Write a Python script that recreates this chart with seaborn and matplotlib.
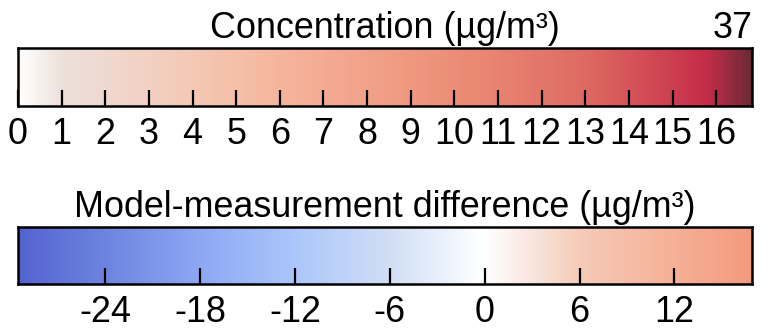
import numpy as np
import pandas as pd
import matplotlib
matplotlib.use("Agg")
import matplotlib.pyplot as plt
from matplotlib.colors import LinearSegmentedColormap
import seaborn as sns

# ---- data ----
conc_title = "Concentration (µg/m³)"
conc_ticks = list(range(0, 17))
conc_min, conc_max = 0.0, 16.82
conc_end_label = "37"
conc_stop_values = [0, 1, 3, 5, 7, 9, 11, 13, 15, 15.8, 16.82]
conc_stop_colors = ["#ffffff", "#ece0da", "#f2d0c2", "#f5bfa7", "#f4ab92", "#ef9880",
                    "#e88370", "#dd6a62", "#cc3e50", "#c42c48", "#6a2a36"]

diff_title = "Model-measurement difference (µg/m³)"
diff_ticks = [-24, -18, -12, -6, 0, 6, 12]
diff_min, diff_max = -29.5, 16.9
diff_stop_values = [-29.5, -24, -18, -12, -6, 0, 4, 6, 12, 16.9]
diff_stop_colors = ["#5463cf", "#6c84df", "#8ca8f3", "#abc6fb", "#d0def5", "#ffffff",
                    "#f6ddd2", "#f5cbb8", "#f5b096", "#f29a7e"]

sns.set_theme(style="white")
plt.rcParams["font.family"] = ["Liberation Sans", "DejaVu Sans"]

fig = plt.figure(figsize=(7.78, 3.29), dpi=100)
ax_top = fig.add_axes([18 / 778, 1 - 106 / 329, 734 / 778, 58 / 329])
ax_bot = fig.add_axes([18 / 778, 1 - 284 / 329, 734 / 778, 57 / 329])

N = 400
FS = 25.8


def make_cmap(vals, cols, vmin, vmax):
    pos = [(v - vmin) / (vmax - vmin) for v in vals]
    pos[0], pos[-1] = 0.0, 1.0
    return LinearSegmentedColormap.from_list("c", list(zip(pos, cols)), N=512)


def draw_bar(ax, vmin, vmax, vals, cols, ticks, title):
    cmap = make_cmap(vals, cols, vmin, vmax)
    centers = vmin + (np.arange(N) + 0.5) * (vmax - vmin) / N
    df = pd.DataFrame([centers])
    sns.heatmap(df, ax=ax, cmap=cmap, vmin=vmin, vmax=vmax, cbar=False,
                xticklabels=False, yticklabels=False, linewidths=0, rasterized=True)
    ax.set_axisbelow(False)
    ax.set_xlim(0, N)
    ax.set_ylim(1, 0)
    pos = [(t - vmin) / (vmax - vmin) * N for t in ticks]
    ax.set_xticks(pos)
    ax.set_xticklabels([str(t) for t in ticks], fontsize=FS)
    ax.set_yticks([])
    ax.tick_params(axis="x", direction="in", length=11.5, width=1.6, color="black",
                   pad=8, bottom=True, top=False, labelcolor="black")
    for s in ax.spines.values():
        s.set_visible(True)
        s.set_color("black")
        s.set_linewidth(1.8)
        s.set_zorder(5)
    ax.set_title(title, fontsize=FS, pad=7.0, color="black")
    ax.set_xlabel("")
    ax.set_ylabel("")


draw_bar(ax_top, conc_min, conc_max, conc_stop_values, conc_stop_colors, conc_ticks, conc_title)
ax_top.set_title(conc_end_label, loc="right", fontsize=FS, pad=7.0, color="black")
draw_bar(ax_bot, diff_min, diff_max, diff_stop_values, diff_stop_colors, diff_ticks, diff_title)

fig.savefig("out.png", dpi=100)
